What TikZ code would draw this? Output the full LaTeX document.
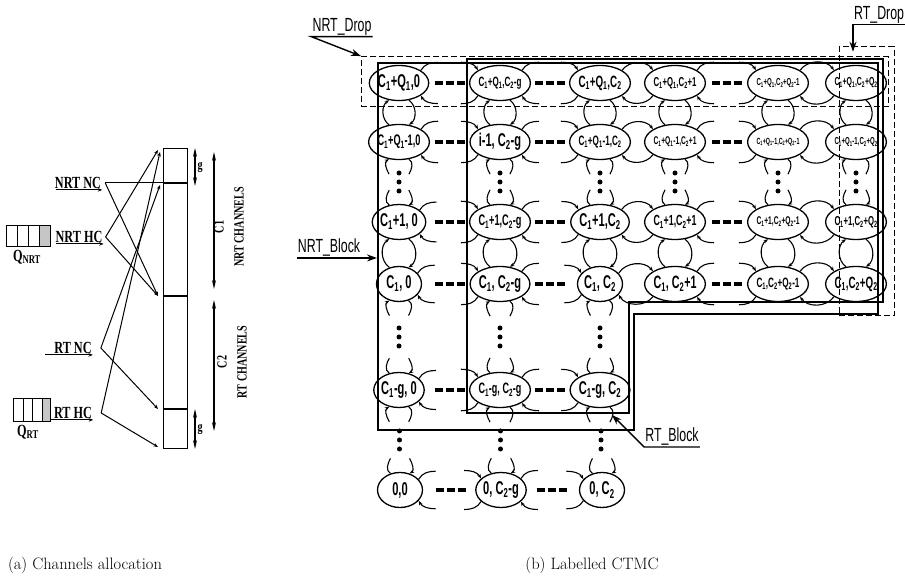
\documentclass[tikz,border=0pt]{standalone}
\usepackage{fontspec}
\usepackage{graphicx}
\usetikzlibrary{shapes.geometric, arrows.meta, positioning, calc}

\newfontfamily\tagfont[FakeStretch=0.65]{Liberation Sans}
\newfontfamily\statefont[FakeStretch=0.6]{Liberation Sans}
\newfontfamily\chanfont[FakeStretch=0.72]{Liberation Serif}

\newcommand{\cone}{C\textsubscript{1}}
\newcommand{\ctwo}{C\textsubscript{2}}
\newcommand{\qone}{Q\textsubscript{1}}
\newcommand{\qtwo}{Q\textsubscript{2}}

% shrink a state label that is wider than the ellipse
\newsavebox{\lblbox}
\newcommand{\lbl}[1]{\sbox{\lblbox}{#1}\ifdim\wd\lblbox>43pt\relax\resizebox{43pt}{!}{\usebox{\lblbox}}\else\usebox{\lblbox}\fi}

% two arcs between neighbours
\newcommand{\hpair}[2]{%
  \draw[link,->] (#1.30) to[bend left=55] (#2.150);
  \draw[link,->] (#2.-150) to[bend left=55] (#1.-30);}
\newcommand{\vpair}[2]{%
  \draw[link,->] (#1.-60) to[bend left=55] (#2.60);
  \draw[link,->] (#2.120) to[bend left=55] (#1.-120);}
% skipped states: stubs and dashes / dots
\newcommand{\hjump}[2]{%
  \draw[link] (#1.30) to[out=60,in=180] ++(17,8);
  \draw[link,<-] (#1.-30) to[out=-60,in=180] ++(17,-8);
  \draw[link,<-] (#2.150) to[out=120,in=0] ++(-17,8);
  \draw[link] (#2.-150) to[out=-120,in=0] ++(-17,-8);
  \draw[gapdash] ($(#1)!.5!(#2)$) ++(-15,0) -- ++(30,0);}
\newcommand{\vjump}[2]{%
  \draw[link,<-] (#1.-120) to[out=-150,in=120] ++(0,-15);
  \draw[link] (#1.-60) to[out=-30,in=60] ++(0,-15);
  \draw[link] (#2.120) to[out=150,in=-120] ++(0,15);
  \draw[link,<-] (#2.60) to[out=30,in=-60] ++(0,15);
  \draw[gapdots] ($(#1)!.5!(#2)$) ++(0,9) -- ++(0,-18.5);}

\begin{document}
\begin{tikzpicture}[x=1pt, y=1pt, >={Stealth[length=4.5pt,width=3.5pt]}]
    % Styles
    \tikzstyle{state} = [ellipse, draw, line width=1.3pt, minimum width=45pt, minimum height=35pt, inner sep=0pt, font=\statefont\bfseries\fontsize{18.5}{18.5}\selectfont]
    \tikzstyle{link} = [line width=1.1pt]
    \tikzstyle{gapdash} = [line width=3.2pt, dash pattern=on 8pt off 3pt]
    \tikzstyle{gapdots} = [line width=5pt, line cap=round, dash pattern=on 0pt off 9pt]
    \tikzstyle{block} = [line width=1.3pt]
    \tikzstyle{dropbox} = [draw, line width=0.9pt, dash pattern=on 6pt off 3pt, inner sep=0pt, anchor=south west]
    \tikzstyle{tag} = [inner sep=1pt, font=\tagfont\fontsize{19}{19}\selectfont]
    \tikzstyle{callout} = [line width=1.4pt, -{Stealth[length=10pt,width=7pt]}]
    \tikzstyle{chan} = [rectangle, draw, line width=1pt, minimum width=24pt, inner sep=0pt]
    \tikzstyle{flowlbl} = [inner sep=1pt, font=\chanfont\bfseries\fontsize{17}{17}\selectfont]
    \tikzstyle{chanlbl} = [inner sep=0pt, align=center, font=\chanfont\bfseries\fontsize{14}{20}\selectfont]
    \tikzstyle{flow} = [line width=1pt, ->]
    \tikzstyle{dimarrow} = [line width=1.2pt, {Stealth[length=9pt,width=4pt]}-{Stealth[length=9pt,width=4pt]}]
    \tikzstyle{caption} = [font=\fontsize{16.5}{19}\selectfont]

    \useasboundingbox (0,0) rectangle (905,586);

    % (a) channel bar
    \node (nrtg) [chan, minimum height=34pt, anchor=north west] at (163,438) {};
    \node (nrtch) [chan, minimum height=112pt, below=0pt of nrtg] {};
    \node (rtch) [chan, minimum height=112pt, below=0pt of nrtch] {};
    \node (rtg) [chan, minimum height=39pt, below=0pt of rtch] {};

    \draw[dimarrow] ([xshift=7pt]nrtg.north east) -- ([xshift=7pt,yshift=-3pt]nrtg.south east) node[midway, right=2pt, chanlbl] {g};
    \draw[dimarrow] ([xshift=7pt]rtg.north east) -- ([xshift=7pt]rtg.south east) node[midway, right=2pt, chanlbl] {g};
    \draw[dimarrow] ([xshift=26pt,yshift=-4pt]nrtg.north east) -- ([xshift=26pt,yshift=7pt]nrtch.south east);
    \draw[dimarrow] ([xshift=26pt,yshift=-4pt]rtch.north east) -- ([xshift=26pt,yshift=18pt]rtg.south east);
    \node (c1lbl) [chanlbl, rotate=90] at (229,359) {C1\\NRT CHANNELS};
    \node (c2lbl) [chanlbl, rotate=90] at (232,224) {C2\\RT CHANNELS};

    % (a) calls and queues
    \node (nrtnc) [flowlbl] at (78,403) {NRT NC};
    \node (nrthc) [flowlbl] at (79,349) {NRT HC};
    \node (rtnc) [flowlbl] at (73,238) {RT NC};
    \node (rthc) [flowlbl] at (73,173) {RT HC};
    \draw[flow] ([xshift=2pt]nrtnc.south west) -- (nrtnc.south east);
    \draw[flow] ([xshift=2pt]nrthc.south west) -- (nrthc.south east);
    \draw[flow] ([xshift=-8pt]rtnc.south west) -- (rtnc.south east);
    \draw[flow] ([xshift=-3pt]rthc.south west) -- (rthc.south east);

    \fill[gray!45] (39,339) rectangle (50,360);
    \draw[line width=1pt] (6,339) rectangle (50,360) (17,339) -- (17,360) (28,339) -- (28,360) (39,339) -- (39,360);
    \node (qnrt) [flowlbl] at (27,329) {Q\textsubscript{NRT}};
    \fill[gray!45] (42,164) rectangle (50,187);
    \draw[line width=1pt] (13,164) rectangle (50,187) (23,164) -- (23,187) (32,164) -- (32,187) (42,164) -- (42,187);
    \node (qrt) [flowlbl] at (28,154) {Q\textsubscript{RT}};

    \coordinate (nrtncA) at ([xshift=3pt]nrtnc.east);
    \coordinate (nrthcA) at ([xshift=2pt]nrthc.east);
    \coordinate (rtncA) at ([xshift=8pt]rtnc.east);
    \coordinate (rthcA) at ([xshift=8pt]rthc.east);
    \draw[line width=1pt] (nrtncA) -- (nrtg.south west);
    \draw[flow] (nrtncA) -- ([xshift=-5pt]nrtch.south west);
    \draw[flow] (nrthcA) -- ([xshift=-5pt,yshift=-2pt]nrtg.north west);
    \draw[flow] (nrthcA) -- ([xshift=-5pt]nrtch.south west);
    \draw[flow] (rtncA) -- ([xshift=-3pt,yshift=-2pt]nrtch.north west);
    \draw[flow] (rtncA) -- ([xshift=-5pt]rtg.north west);
    \draw[flow] (rthcA) -- ([xshift=-3pt,yshift=-4pt]nrtg.north west);
    \draw[flow] (rthcA) -- ([xshift=-5pt,yshift=2pt]rtg.south west);

    % (b) CTMC states
    \node (s11) [state] at (399,503) {\lbl{\cone+\qone,0}};
    \node (s12) [state] at (500,503) {\lbl{\cone+\qone,\ctwo-g}};
    \node (s13) [state] at (600,503) {\lbl{\cone+\qone,\ctwo}};
    \node (s14) [state] at (675,503) {\lbl{\cone+\qone,\ctwo+1}};
    \node (s15) [state] at (778,503) {\lbl{\cone+\qone,\ctwo+\qtwo-1}};
    \node (s16) [state] at (856,503) {\lbl{\cone+\qone,\ctwo+\qtwo}};

    \node (s21) [state] at (399,444) {\lbl{\cone+\qone-1,0}};
    \node (s22) [state] at (500,444) {\lbl{i-1, \ctwo-g}};
    \node (s23) [state] at (600,444) {\lbl{\cone+\qone-1,\ctwo}};
    \node (s24) [state] at (675,444) {\lbl{\cone+\qone-1,\ctwo+1}};
    \node (s25) [state] at (778,444) {\lbl{\cone+\qone-1,\ctwo+\qtwo-1}};
    \node (s26) [state] at (856,444) {\lbl{\cone+\qone-1,\ctwo+\qtwo}};

    \node (s31) [state] at (399,364) {\lbl{\cone+1, 0}};
    \node (s32) [state] at (500,364) {\lbl{\cone+1,\ctwo-g}};
    \node (s33) [state] at (600,364) {\lbl{\cone+1,\ctwo}};
    \node (s34) [state] at (675,364) {\lbl{\cone+1,\ctwo+1}};
    \node (s35) [state] at (778,364) {\lbl{\cone+1,\ctwo+\qtwo-1}};
    \node (s36) [state] at (856,364) {\lbl{\cone+1,\ctwo+\qtwo}};

    \node (s41) [state] at (399,302) {\lbl{\cone, 0}};
    \node (s42) [state] at (500,302) {\lbl{\cone, \ctwo-g}};
    \node (s43) [state] at (600,302) {\lbl{\cone, \ctwo}};
    \node (s44) [state] at (675,302) {\lbl{\cone, \ctwo+1}};
    \node (s45) [state] at (778,302) {\lbl{\cone,\ctwo+\qtwo-1}};
    \node (s46) [state] at (856,302) {\lbl{\cone,\ctwo+\qtwo}};

    \node (s51) [state] at (399,196) {\lbl{\cone-g, 0}};
    \node (s52) [state] at (500,196) {\lbl{\cone-g, \ctwo-g}};
    \node (s53) [state] at (600,196) {\lbl{\cone-g, \ctwo}};

    \node (s61) [state] at (400,96) {\lbl{0,0}};
    \node (s62) [state] at (501,96) {\lbl{0, \ctwo-g}};
    \node (s63) [state] at (602,96) {\lbl{0, \ctwo}};

    % horizontal transitions
    \hjump{s11}{s12} \hjump{s12}{s13} \hpair{s13}{s14} \hjump{s14}{s15} \hpair{s15}{s16}
    \hjump{s21}{s22} \hjump{s22}{s23} \hpair{s23}{s24} \hjump{s24}{s25} \hpair{s25}{s26}
    \hjump{s31}{s32} \hjump{s32}{s33} \hpair{s33}{s34} \hjump{s34}{s35} \hpair{s35}{s36}
    \hjump{s41}{s42} \hjump{s42}{s43} \hpair{s43}{s44} \hjump{s44}{s45} \hpair{s45}{s46}
    \hjump{s51}{s52} \hjump{s52}{s53}
    \hjump{s61}{s62} \hjump{s62}{s63}

    % vertical transitions
    \vpair{s11}{s21} \vjump{s21}{s31} \vpair{s31}{s41} \vjump{s41}{s51} \vjump{s51}{s61}
    \vpair{s12}{s22} \vjump{s22}{s32} \vpair{s32}{s42} \vjump{s42}{s52} \vjump{s52}{s62}
    \vpair{s13}{s23} \vjump{s23}{s33} \vpair{s33}{s43} \vjump{s43}{s53} \vjump{s53}{s63}
    \vpair{s14}{s24} \vjump{s24}{s34} \vpair{s34}{s44}
    \vpair{s15}{s25} \vjump{s25}{s35} \vpair{s35}{s45}
    \vpair{s16}{s26} \vjump{s26}{s36} \vpair{s36}{s46}

    % blocking and dropping regions
    \draw[block] (629,173) -- (629,284) -- (883,284) -- (883,527) -- (467,527) -- (467,173) -- cycle;
    \draw[block] (378,156) -- (634,156) -- (634,272) -- (878,272) -- (878,523) -- (378,523) -- cycle;
    \node (nrtdropbox) [dropbox, minimum width=527pt, minimum height=50pt] at (361,479) {};
    \node (rtdropbox) [dropbox, minimum width=55pt, minimum height=269pt] at (839,270) {};

    \node (nrtdroplbl) [tag] at (342,559) {NRT\_Drop};
    \draw[callout] (nrtdroplbl.south east) -- (nrtdroplbl.south west) -- (nrtdropbox.north west);
    \node (rtdroplbl) [tag, anchor=west] at (853,571) {RT\_Drop};
    \coordinate (rtdroptip) at ([yshift=-27pt]rtdroplbl.south west);
    \draw[callout] (rtdroplbl.south east) -- (rtdroplbl.south west) -- (rtdroptip);
    \node (nrtblocklbl) [tag] at (329,338) {NRT\_Block};
    \coordinate (nrtblocktip) at (377,326);
    \draw[callout] (nrtblocklbl.south west) -- (nrtblocklbl.south west -| nrtblocktip);
    \node (rtblocklbl) [tag] at (672,149) {RT\_Block};
    \coordinate (rtblocktip) at (612,171);
    \draw[callout] (rtblocklbl.south east) -- (rtblocklbl.south west) -- (rtblocktip);

    % captions
    \node (capa) [caption] at (85,21) {(a) Channels allocation};
    \node (capb) [caption] at (592,21) {(b) Labelled CTMC};
\end{tikzpicture}
\end{document}
